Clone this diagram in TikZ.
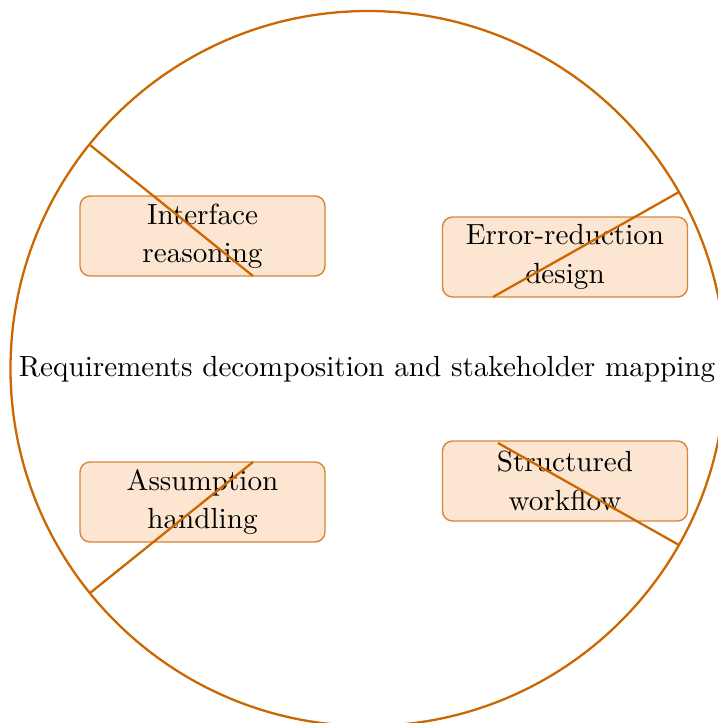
\documentclass[tikz,border=0pt]{standalone}
\usetikzlibrary{calc}
\definecolor{rim}{HTML}{CC6600}
\definecolor{boxfill}{HTML}{FDE6D1}
\definecolor{boxedge}{HTML}{D9853A}
\begin{document}
\begin{tikzpicture}[x=0.35pt,y=-0.35pt,
  facet/.style={draw=boxedge, fill=boxfill, rounded corners=3.5pt, line width=0.5pt,
    minimum width=245*0.35pt, minimum height=80*0.35pt, align=center, inner sep=0pt, font=\fontsize{10.2}{13.4}\selectfont},
  spoke/.style={draw=rim, line width=0.8pt}]
\useasboundingbox (0,0) rectangle (717,723);
\coordinate (ctr) at (368,368.5);
\draw[rim, line width=0.8pt] (ctr) circle[radius=357.5*0.35pt];
\node[font=\fontsize{10.2}{12.5}\selectfont] (title) at (367,369) {Requirements decomposition and stakeholder mapping};
\node[facet] (ir) at (202.5,236) {Interface\\reasoning};
\node[facet] (er) at (565,257) {Error-reduction\\design};
\node[facet] (sw) at (565,481) {Structured\\workflow};
\node[facet] (ah) at (202.5,502) {Assumption\\handling};
\coordinate (r1) at (90,145);
\coordinate (r2) at (679,192);
\coordinate (r3) at (679,545);
\coordinate (r4) at (90,593);
\coordinate (e1) at (253,276);
\coordinate (e2) at (493,297);
\coordinate (e3) at (498,443);
\coordinate (e4) at (253,462);
\draw[spoke] (r1) -- (e1);
\draw[spoke] (r2) -- (e2);
\draw[spoke] (r3) -- (e3);
\draw[spoke] (r4) -- (e4);
\end{tikzpicture}
\end{document}
